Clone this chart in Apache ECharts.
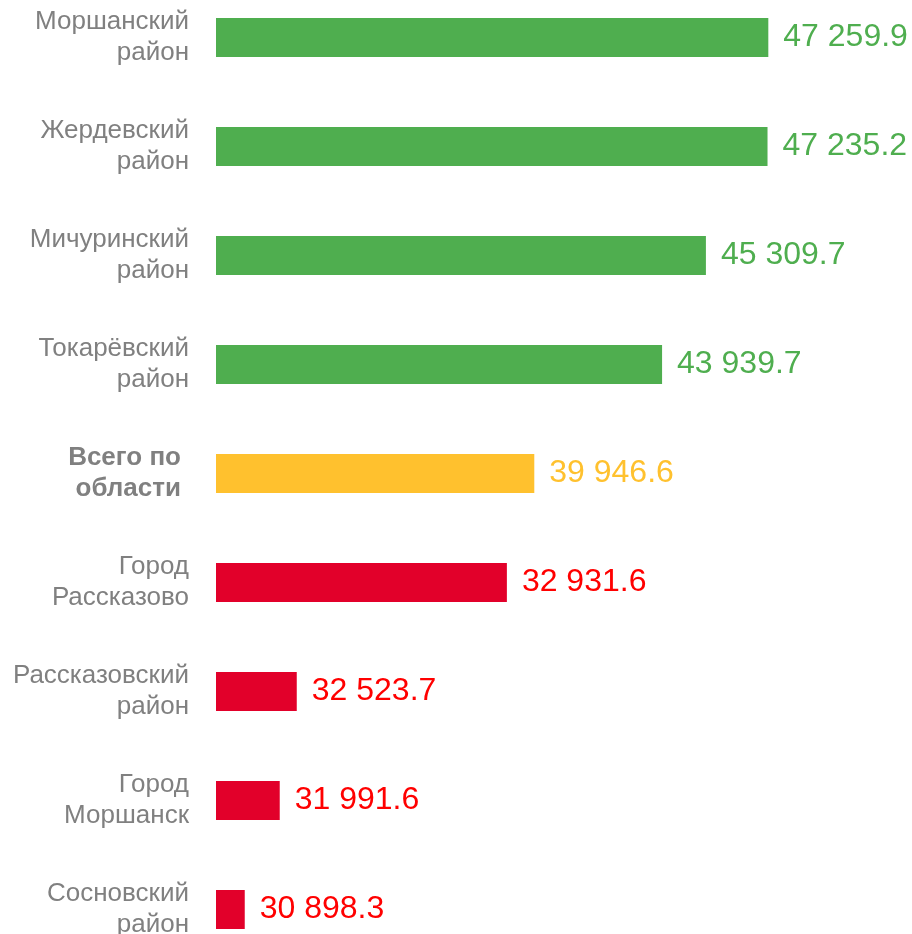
<!DOCTYPE html>
<html>
<head>
<meta charset="utf-8">
<script src="https://cdn.jsdelivr.net/npm/echarts@6/dist/echarts.min.js"></script>
<style>
  html, body { margin: 0; padding: 0; background: #fff; }
  #chart { width: 912px; height: 934px; }
</style>
</head>
<body>
<div id="chart"></div>
<script>
const categories = [
  'Моршанский\nрайон',
  'Жердевский\nрайон',
  'Мичуринский\nрайон',
  'Токарёвский\nрайон',
  'Всего по\nобласти',
  'Город\nРассказово',
  'Рассказовский\nрайон',
  'Город\nМоршанск',
  'Сосновский\nрайон'
]
// bar lengths as drawn in the picture
const barValues = [47259.9, 47235.2, 45309.7, 43939.7, 39946.6, 39090, 32523.7, 31991.6, 30898.3]
// value labels as printed
const valueLabels = ['47 259.9', '47 235.2', '45 309.7', '43 939.7', '39 946.6', '32 931.6', '32 523.7', '31 991.6', '30 898.3']
const groups = ['good', 'good', 'good', 'good', 'total', 'bad', 'bad', 'bad', 'bad']

const barColors = { good: '#4FAE4F', total: '#FFC12E', bad: '#E2002A' }
const textColors = { good: '#4FAE4F', total: '#FFC12E', bad: '#FF0000' }

const chart = echarts.init(document.getElementById('chart'))

const option = {
  animation: false,
  grid: {
    left: 216,
    right: 56,
    top: -17,
    height: 981,
    outerBoundsMode: 'none',
    containLabel: false
  },
  xAxis: {
    type: 'value',
    min: 30000,
    max: 50000,
    show: false
  },
  yAxis: {
    type: 'category',
    inverse: true,
    data: categories,
    axisLine: { show: false },
    axisTick: { show: false },
    axisLabel: {
      margin: 27,
      fontFamily: 'Liberation Sans, Arial, sans-serif',
      fontSize: 26,
      lineHeight: 31,
      color: '#808080',
      align: 'right',
      formatter: (v) => v === 'Всего по\nобласти' ? '{b|' + v.replace('\n', '}\n{b|') + '}' : v,
      rich: {
        b: {
          fontFamily: 'Liberation Sans, Arial, sans-serif',
          fontSize: 26,
          lineHeight: 31,
          fontWeight: 'bold',
          color: '#808080',
          padding: [0, 8, 0, 0]
        }
      }
    }
  },
  series: [
    {
      type: 'bar',
      barWidth: 39,
      data: barValues.map((v, i) => ({
        value: v,
        itemStyle: { color: barColors[groups[i]] },
        label: { color: textColors[groups[i]] }
      })),
      label: {
        show: true,
        position: 'right',
        distance: 15,
        fontFamily: 'Liberation Sans, Arial, sans-serif',
        fontSize: 32,
        formatter: (p) => valueLabels[p.dataIndex]
      }
    }
  ]
}

chart.setOption(option)
</script>
</body>
</html>
